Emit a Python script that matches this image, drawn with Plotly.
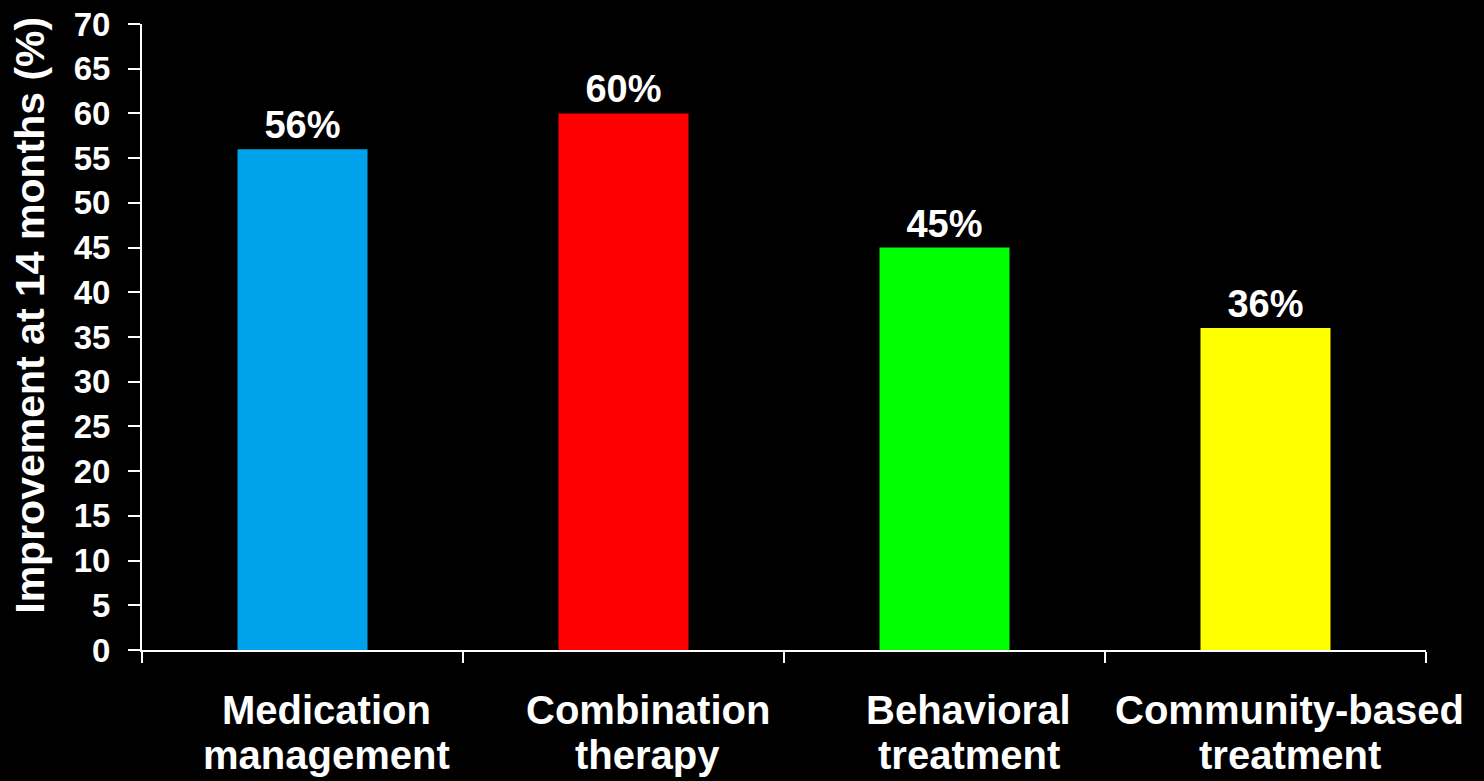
import plotly.graph_objects as go

# Treatment groups (two-line labels) and improvement percentages
line1 = ["Medication", "Combination", "Behavioral", "Community-based"]
line2 = ["management", "therapy", "treatment", "treatment"]
categories = [a + " " + b for a, b in zip(line1, line2)]
improvement = [56, 60, 45, 36]
bar_colors = ["#00A2EC", "#FF0000", "#00FF00", "#FFFF00"]

y_ticks = list(range(0, 75, 5))
y_ticktext = [str(v) for v in y_ticks]
title_text = "(Normal or improved)"

FONT = "Liberation Sans, Arial, Helvetica, sans-serif"

fig = go.Figure(
    go.Bar(
        x=categories,
        y=improvement,
        marker=dict(color=bar_colors, line=dict(width=0)),
        text=[f"{v}%" for v in improvement],
        textposition="outside",
        textfont=dict(family=FONT, size=38, color="white", weight="bold"),
        cliponaxis=False,
        hoverinfo="skip",
    )
)

# Category labels drawn as two separate lines under the axis
for cat, a, b in zip(categories, line1, line2):
    fig.add_annotation(x=cat, y=0, xref="x", yref="paper", text=a,
                       showarrow=False, xanchor="center", yanchor="top",
                       xshift=24, yshift=-37, borderpad=0,
                       font=dict(family=FONT, size=40, color="white", weight="bold"))
    fig.add_annotation(x=cat, y=0, xref="x", yref="paper", text=b,
                       showarrow=False, xanchor="center", yanchor="top",
                       xshift=24, yshift=-82, borderpad=0,
                       font=dict(family=FONT, size=40, color="white", weight="bold"))

# Vertical axis title
fig.add_annotation(x=-0.0875, y=0.535, xref="paper", yref="paper",
                   text="Improvement at 14 months (%)", textangle=-90,
                   showarrow=False, xanchor="center", yanchor="middle",
                   font=dict(family=FONT, size=41, color="white", weight="bold"))

# Cyan heading running off the top edge
fig.add_annotation(x=0.4798, y=1.0365, xref="paper", yref="paper",
                   text=title_text, showarrow=False,
                   xanchor="center", yanchor="bottom", borderpad=0,
                   font=dict(family=FONT, size=46, color="#00FFFF", weight="bold"))

fig.update_layout(
    width=1484, height=781,
    margin=dict(l=142, r=58, t=24, b=131, autoexpand=False),
    paper_bgcolor="black", plot_bgcolor="black",
    showlegend=False,
    bargap=0.595,
    xaxis=dict(
        type="category", range=[-0.5, 3.5], automargin=False,
        showticklabels=False, showgrid=False, zeroline=False,
        showline=True, linecolor="white", linewidth=2,
        ticks="outside", tickson="boundaries", ticklen=11,
        tickcolor="white", tickwidth=2,
    ),
    yaxis=dict(
        range=[0, 70], tickmode="array", tickvals=y_ticks, ticktext=y_ticktext,
        automargin=False,
        showgrid=False, zeroline=False,
        showline=True, linecolor="white", linewidth=2,
        ticks="outside", ticklen=12, tickcolor="white", tickwidth=2,
        ticklabelstandoff=11,
        tickfont=dict(family=FONT, size=33, color="white", weight="bold"),
    ),
)

fig.write_html("out.html")
